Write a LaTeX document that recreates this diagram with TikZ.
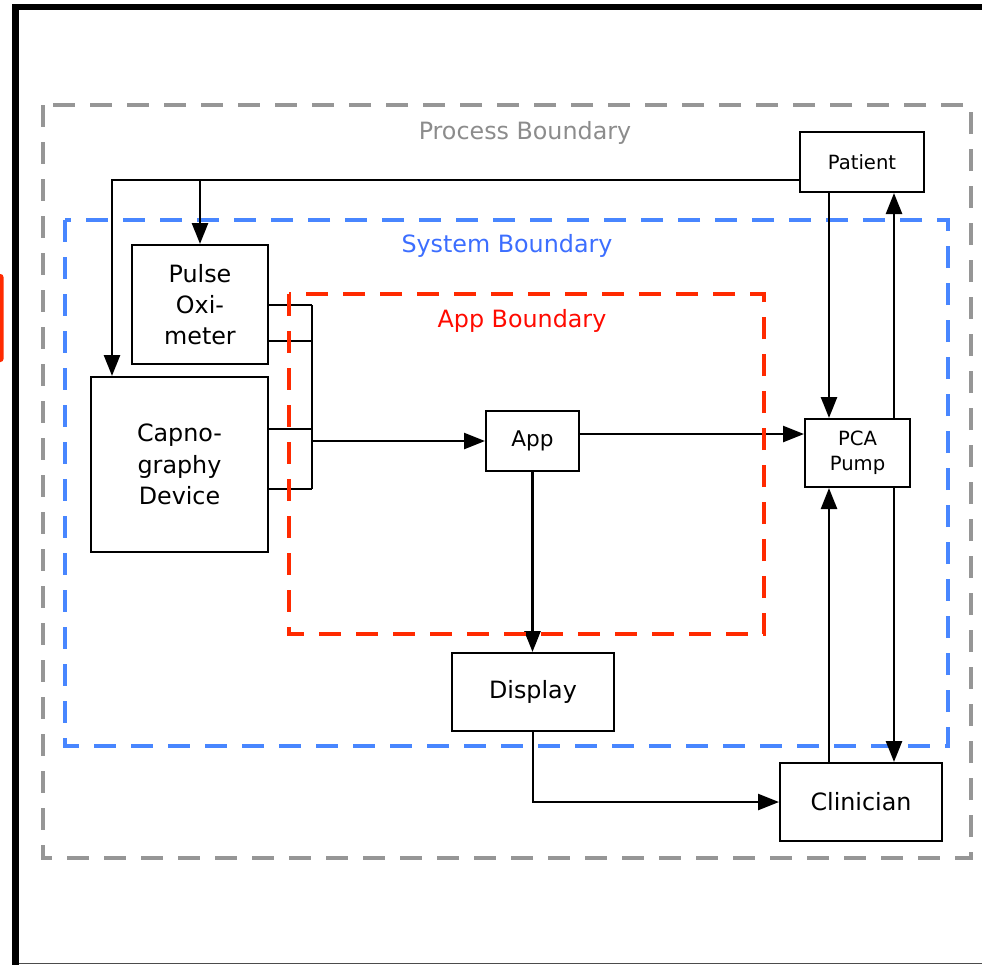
\documentclass[tikz,border=0pt]{standalone}
\usepackage{fontspec}
\setmainfont{DejaVu Sans}
\usepackage{xcolor}
\usetikzlibrary{arrows.meta,calc}

\definecolor{procgray}{RGB}{150,150,150}
\definecolor{proctext}{RGB}{140,140,140}
\definecolor{sysblue}{RGB}{72,134,255}
\definecolor{systext}{RGB}{60,110,255}
\definecolor{appred}{RGB}{255,42,0}
\definecolor{apptext}{RGB}{255,10,0}

\begin{document}
\begin{tikzpicture}[
    x=0.5pt, y=-0.5pt,
    font=\fontsize{11.9}{15.6}\selectfont,
    box/.style={draw, line width=1pt, fill=white, align=center, inner sep=0pt},
    sbox/.style={box, font=\fontsize{9.8}{12.5}\selectfont},
    line/.style={line width=1.25pt},
    arr/.style={line, -{Triangle[length=10.5pt, width=8pt]}},
    bound/.style={line width=2.3pt, dash pattern=on 11pt off 7.5pt},
    blabel/.style={font=\fontsize{11.9}{13}\selectfont}
]
\useasboundingbox (0,0) rectangle (982,965);

% window frame
\draw[line width=3pt] (12,7) -- (982,7);
\draw[line width=3.5pt] (15.5,4) -- (15.5,965);
\draw[line width=0.5pt, black!70] (19,963) -- (982,963);
\fill[appred, rounded corners=1.5pt] (-4,274) rectangle (3.5,362);

% boundaries
\draw[bound, procgray] (43,105) rectangle (971,858);
\node[blabel, text=proctext] (plab) at (525,133) {Process Boundary};
\draw[bound, sysblue] (65,220) rectangle (948,746);
\node[blabel, text=systext] (slab) at (507,246) {System Boundary};

\node[sbox, minimum width=62pt, minimum height=30pt] (pat) at (862,162) {Patient};
\node[box, minimum width=68pt, minimum height=59.5pt] (oxi) at (200,304.5) {Pulse\\Oxi-\\meter};
\node[box, minimum width=88.5pt, minimum height=87.5pt] (cap) at (179.5,464.5) {Capno-\\graphy\\Device};
\node[box, font=\fontsize{10.8}{12}\selectfont, minimum width=46.5pt, minimum height=30pt] (app) at (532.5,441) {App};
\node[sbox, minimum width=52.5pt, minimum height=34pt] (pca) at (857.5,453) {PCA\\Pump};
\node[box, minimum width=81pt, minimum height=39pt] (disp) at (533,692) {Display};
\node[box, minimum width=81pt, minimum height=39pt] (clin) at (861,802) {Clinician};

\coordinate (pt) at (800,180);
\coordinate (bus) at (312,0);
\coordinate (ap) at (579,434);
\coordinate (lanea) at (829,0);
\coordinate (laneb) at (894,0);

\draw[arr] (pt) -| ([xshift=11pt]cap.north west);
\draw[arr] (oxi.north |- pt) -- (oxi.north);

\foreach \y in {305,341} \draw[line] (oxi.east |- 0,\y) -- (bus |- 0,\y);
\foreach \y in {429,489} \draw[line] (cap.east |- 0,\y) -- (bus |- 0,\y);
\draw[line] (bus |- 0,305) -- (bus |- 0,489);
\draw[arr] (bus |- app.west) -- (app.west);

\draw[arr] (ap) -- (ap -| pca.west);
\draw[arr] (app.south) -- (app.south |- disp.north);
\draw[arr] (disp.south) |- (clin.west);

\draw[arr] (lanea |- pat.south) -- (lanea |- pca.north);
\draw[arr] (laneb |- pca.north) -- (laneb |- pat.south);
\draw[arr] (lanea |- clin.north) -- (lanea |- pca.south);
\draw[arr] (laneb |- pca.south) -- (laneb |- clin.north);

\draw[bound, appred] (289,294) rectangle (764,634);
\node[blabel, text=apptext] (alab) at (522,321) {App Boundary};
\end{tikzpicture}
\end{document}
